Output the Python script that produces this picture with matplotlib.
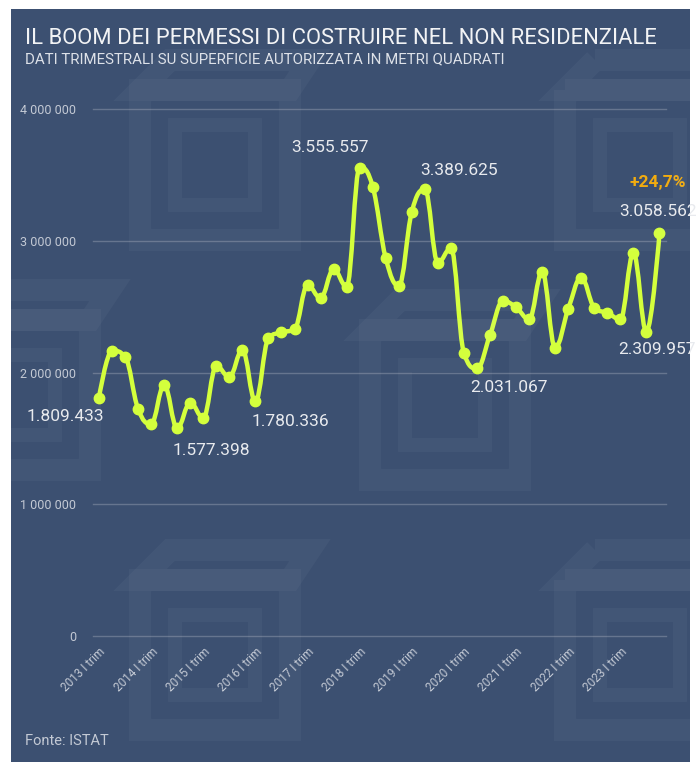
import numpy as np
import matplotlib.pyplot as plt
from matplotlib.path import Path
from matplotlib.patches import PathPatch, Rectangle, Polygon

plt.rcParams['font.family'] = ['Roboto', 'DejaVu Sans']

# quarterly values, 2013 Q1 .. 2023 Q4 (m2)
values = [1809433, 2166000, 2120000, 1723000, 1609000, 1905000, 1577398, 1771000,
          1655000, 2049000, 1966000, 2171000, 1780336, 2259000, 2305000, 2328000,
          2664000, 2565000, 2783000, 2651000, 3555557, 3410000, 2867000, 2659000,
          3221000, 3389625, 2834000, 2943000, 2146000, 2031067, 2285000, 2543000,
          2495000, 2404000, 2765000, 2188000, 2482000, 2720000, 2492000, 2452700,
          2404000, 2905000, 2309957, 3058562]
years = list(range(2013, 2024))
tick_labels = [f"{y} I trim" for y in years]
y_ticks = [0, 1000000, 2000000, 3000000, 4000000]
y_tick_labels = ["0", "1 000 000", "2 000 000", "3 000 000", "4 000 000"]
# index of labelled point, text, offset in pixels (dx, dy)
point_labels = [(0, "1.809.433", (-34, -19)), (6, "1.577.398", (34, -22)),
                (12, "1.780.336", (35, -20)), (20, "3.555.557", (-30, 20)),
                (25, "3.389.625", (34, 19)), (29, "2.031.067", (32, -19)),
                (42, "2.309.957", (11, -18)), (43, "3.058.562", (-1, 22))]
change_label = "+24,7%"

W, H = 697, 762
bg = '#3c5071'
line_col = '#d4ff3c'
txt = '#e8eaee'
muted = '#c3c9d4'

fig = plt.figure(figsize=(W / 100, H / 100), dpi=100)
fig.patch.set_facecolor('white')


def px(x, y):
    return x / W, 1 - y / H


# dark panel
fig.add_artist(Rectangle(px(11, 762), 679 / W, 753 / H, transform=fig.transFigure,
                         facecolor=bg, edgecolor='none', zorder=0))


# faint watermark logos
def logo(x0, y0):
    c = (1, 1, 1, 0.035)
    pieces = [
        [(x0, y0 + 30), (x0 + 150, y0 + 30), (x0 + 150, y0 + 180), (x0, y0 + 180)],
        [(x0 + 30, y0), (x0 + 170, y0), (x0 + 150, y0 + 30), (x0, y0 + 30)],
        [(x0 + 35, y0 + 65), (x0 + 115, y0 + 65), (x0 + 115, y0 + 145), (x0 + 35, y0 + 145)],
    ]
    for p, w in zip(pieces, [16, 16, 10]):
        fig.add_artist(Polygon([px(a, b) for a, b in p], closed=True,
                               transform=fig.transFigure, facecolor='none',
                               edgecolor=c, lw=w, zorder=0.5))


for (lx, ly) in [(140, 60), (565, 60), (-60, 290), (370, 300), (140, 550), (565, 550)]:
    logo(lx, ly)

ax = fig.add_axes([93 / W, 1 - 636 / H, (666 - 93) / W, (636 - 109) / H])
ax.set_facecolor('none')
n = len(values)
xs = np.arange(n)
ax.set_xlim(-0.46, n - 1 + 0.5)
ax.set_ylim(0, 4000000)
for s in ax.spines.values():
    s.set_visible(False)
ax.set_yticks(y_ticks)
ax.set_yticklabels(y_tick_labels, color=muted, fontsize=9)
ax.yaxis.grid(True, color='#66758f', lw=1)
for gl in ax.get_ygridlines():
    gl.set_clip_on(False)
ax.tick_params(axis='y', length=0, pad=12)
ax.set_xticks(xs[::4])
ax.set_xticklabels(tick_labels, rotation=45, ha='right', va='top',
                   rotation_mode='anchor', color=muted, fontsize=8.5)
ax.tick_params(axis='x', length=0, pad=7)
ax.set_axisbelow(True)

# spline (Highcharts-like smoothing) through the data points
sm, den = 1.5, 2.5
ys = np.array(values, dtype=float)
lc = [None] * n
rc = [None] * n
for i in range(n):
    px_, py_ = xs[i], ys[i]
    if i == 0 or i == n - 1:
        lc[i] = (px_, py_)
        rc[i] = (px_, py_)
        continue
    lx, ly = xs[i - 1], ys[i - 1]
    nx, ny = xs[i + 1], ys[i + 1]
    lcx = (sm * px_ + lx) / den
    lcy = (sm * py_ + ly) / den
    rcx = (sm * px_ + nx) / den
    rcy = (sm * py_ + ny) / den
    corr = (rcy - lcy) * (rcx - px_) / (rcx - lcx) + py_ - rcy
    lcy += corr
    rcy += corr
    if lcy > ly and lcy > py_:
        lcy = max(ly, py_)
        rcy = 2 * py_ - lcy
    elif lcy < ly and lcy < py_:
        lcy = min(ly, py_)
        rcy = 2 * py_ - lcy
    if rcy > ny and rcy > py_:
        rcy = max(ny, py_)
        lcy = 2 * py_ - rcy
    elif rcy < ny and rcy < py_:
        rcy = min(ny, py_)
        lcy = 2 * py_ - rcy
    lc[i] = (lcx, lcy)
    rc[i] = (rcx, rcy)

verts = [(xs[0], ys[0])]
codes = [Path.MOVETO]
for i in range(1, n):
    verts += [rc[i - 1], lc[i], (xs[i], ys[i])]
    codes += [Path.CURVE4] * 3
ax.add_patch(PathPatch(Path(verts, codes), facecolor='none', edgecolor=line_col,
                       lw=3.2, capstyle='round', joinstyle='round', zorder=3, clip_on=False))
ax.plot(xs, ys, 'o', color=line_col, ms=7.5, zorder=4, clip_on=False)

for i, t, (dx, dy) in point_labels:
    ax.annotate(t, (xs[i], ys[i]), xytext=(dx, dy), textcoords='offset pixels',
                ha='center', va='center', color=txt, fontsize=12.5, zorder=5)
ax.annotate(change_label, (xs[-1], ys[-1]), xytext=(-2, 51), textcoords='offset pixels',
            ha='center', va='center', color='#f2ac0f', fontsize=12.5,
            fontweight='bold', zorder=5)

fig.text(25 / W, 1 - 38 / H, "IL BOOM DEI PERMESSI DI COSTRUIRE NEL NON RESIDENZIALE",
         color='#f2f3f5', fontsize=15.8, va='center', ha='left')
fig.text(25 / W, 1 - 59 / H, "DATI TRIMESTRALI SU SUPERFICIE AUTORIZZATA IN METRI QUADRATI",
         color='#dde1e8', fontsize=10.8, va='center', ha='left')
fig.text(25 / W, 1 - 741 / H, "Fonte: ISTAT", color=muted, fontsize=10.5,
         va='center', ha='left')

fig.savefig("out.png", dpi=100)
